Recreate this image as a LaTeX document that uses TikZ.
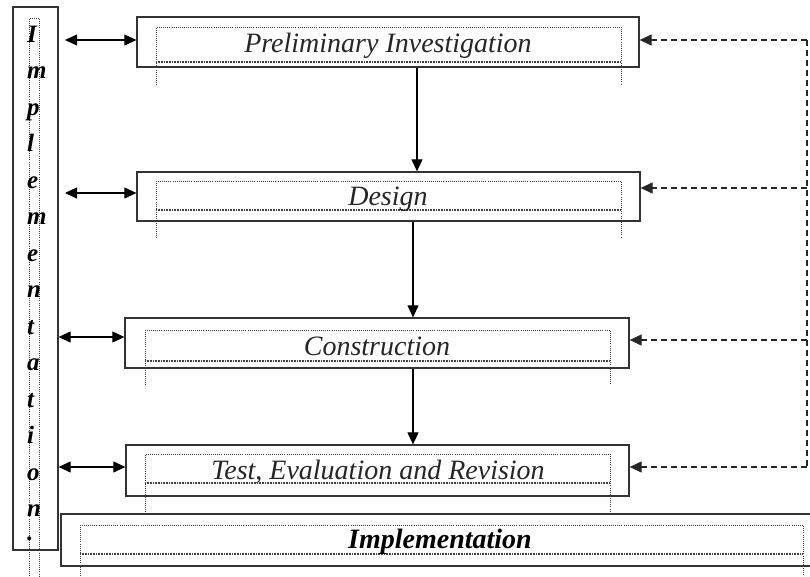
\documentclass[tikz,border=0pt]{standalone}
\usepackage{fontspec}
\setmainfont{Liberation Serif}
\usetikzlibrary{arrows.meta,calc}
\begin{document}
\begin{tikzpicture}[x=1pt,y=-1pt,
  box/.style={draw=black!80, line width=1.3pt, inner sep=0pt, fill=none},
  dotl/.style={draw=black!75, line width=0.8pt, dash pattern=on 0.8pt off 1.3pt},
  wavy/.style={draw=black!75, line width=1.6pt, dash pattern=on 0.8pt off 0.8pt},
  tip/.tip={Triangle[length=12pt,width=11pt]},
  arr/.style={-tip, line width=1.1pt, black},
  darr/.style={tip-tip, line width=1.1pt, black},
  fb/.style={dash pattern=on 6pt off 4pt, line width=1.2pt, black!85},
  lbl/.style={inner sep=0pt, anchor=base, text=black!85, font=\fontsize{28}{30}\selectfont\itshape},
  vl/.style={inner sep=0pt, anchor=base west, text=black, font=\fontsize{25}{26}\selectfont\bfseries\itshape}]
\useasboundingbox (0,0) rectangle (810,576);
\fill[white] (0,0) rectangle (810,576);
\clip (0,0) rectangle (810,576);

% left tall box
\node[box, minimum width=45pt, minimum height=543pt] (L) at (35.5,278.5) {};
\draw[dotl] (29,576) -- (29,18) -- (39,18) -- (39,576);
\foreach \ch/\yy [count=\i] in {I/42,m/78.5,p/115,l/151.5,e/188,m/224.5,e/261,n/297.5,t/334,a/370.5,t/407,i/443.5,o/480,n/516.5,./540}
  \node[vl] (v\i) at (27,\yy) {\ch};

% main boxes
\node[box, minimum width=502pt, minimum height=50pt] (b1) at (388,42) {};
\node[box, minimum width=503pt, minimum height=49pt] (b2) at (388.5,196.5) {};
\node[box, minimum width=504pt, minimum height=50pt] (b3) at (377,343) {};
\node[box, minimum width=503pt, minimum height=51pt] (b4) at (377.5,470.5) {};
\node[box, minimum width=770pt, minimum height=52pt] (b5) at (446,540) {};

% inner dotted frames
\foreach \l/\r/\t/\b/\e in {156/621/27/62/85, 156/621/181/210/238, 145/610/330/361/385, 145/610/454/483/512, 80/803/525/554/580}{
  \draw[dotl] (\l,\e) -- (\l,\t) -- (\r,\t) -- (\r,\e);
  \draw[wavy] (\l,\b) -- (\r,\b);
}

% labels
\node[lbl] (t1) at (388,52) {Preliminary Investigation};
\node[lbl] (t2) at (388,205) {Design};
\node[lbl] (t3) at (377,355) {Construction};
\node[lbl] (t4) at (378,479) {Test, Evaluation and Revision};
\node[lbl, font=\fontsize{28}{30}\selectfont\bfseries\itshape, text=black] (t5) at (440,548) {Implementation};

% down arrows
\coordinate (c1) at (417,0);
\coordinate (c2) at (413,0);
\draw[arr] (b1.south -| c1) -- (b2.north -| c1);
\draw[arr] (b2.south -| c2) -- (b3.north -| c2);
\draw[arr] (b3.south -| c2) -- (b4.north -| c2);

% double arrows to the left box
\coordinate (l1) at (65,40);
\coordinate (l2) at (65,193);
\coordinate (l3) at (L.east |- 0,337);
\coordinate (l4) at (L.east |- 0,467);
\draw[darr] (l1) -- (b1.west |- l1);
\draw[darr] (l2) -- (b2.west |- l2);
\draw[darr] (l3) -- (b3.west |- l3);
\draw[darr] (l4) -- (b4.west |- l4);

% dashed feedback
\coordinate (r1) at (807,40);
\coordinate (r2) at (807,188);
\coordinate (r3) at (807,340);
\coordinate (r4) at (807,467);
\draw[fb] (r1) -- (r4);
\draw[fb, -tip] (r1) -- (b1.east |- r1);
\draw[fb, -tip] (r2) -- (b2.east |- r2);
\draw[fb, -tip] (r3) -- (b3.east |- r3);
\draw[fb, -tip] (r4) -- (b4.east |- r4);
\end{tikzpicture}
\end{document}
